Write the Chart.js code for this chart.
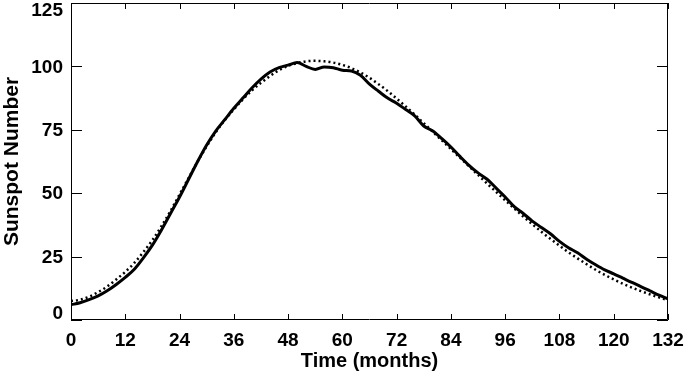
<!DOCTYPE html>
<html>
<head>
<meta charset="utf-8">
<script src="https://cdn.jsdelivr.net/npm/chart.js@4/dist/chart.umd.min.js"></script>
<style>
  html, body { margin: 0; padding: 0; background: #fff; }
  #wrap { width: 685px; height: 373px; }
</style>
</head>
<body>
<div id="wrap"><canvas id="chart" width="685" height="373"></canvas></div>
<script>
// months (every 2 months across the cycle)
const months = [
    0, 2, 4, 6, 8, 10, 12, 14, 16, 18, 20, 22, 24, 26, 28, 30, 32, 34, 36, 38,
    40, 42, 44, 46, 48, 50, 52, 54, 56, 58, 60, 62, 64, 66, 68, 70, 72, 74, 76, 78,
    80, 82, 84, 86, 88, 90, 92, 94, 96, 98, 100, 102, 104, 106, 108, 110, 112, 114, 116, 118,
    120, 122, 124, 126, 128, 130, 132,
];

// observed (solid)
const observed = [
    6.0, 6.8, 8.0, 9.5, 11.5, 14.0, 16.8, 20.0, 24.5, 29.5, 35.5, 42.0, 48.5, 55.5, 62.5, 69.0, 74.5, 79.0, 83.5, 87.5,
    91.5, 95.0, 97.8, 99.5, 100.5, 101.5, 100.0, 98.8, 99.8, 99.5, 98.5, 98.2, 96.5, 93.0, 90.2, 87.5, 85.5, 83.0, 80.5, 76.5,
    74.5, 71.5, 68.2, 64.5, 61.0, 58.0, 55.5, 52.0, 48.5, 44.7, 42.0, 39.0, 36.5, 34.0, 31.0, 28.5, 26.5, 24.0, 21.8, 19.8,
    18.2, 16.5, 14.8, 13.2, 11.5, 9.8, 8.3,
];

// fitted (dotted)
const fitted = [
    7.5, 8.0, 9.2, 11.0, 13.2, 16.0, 19.0, 22.5, 26.8, 31.5, 37.0, 43.0, 49.5, 56.0, 62.5, 68.5, 74.0, 78.8, 83.0, 87.0,
    90.5, 93.5, 96.2, 98.5, 100.2, 101.3, 102.0, 102.2, 102.0, 101.5, 100.6, 99.3, 97.6, 95.5, 93.0, 90.3, 87.3, 84.2, 81.0, 77.6,
    74.2, 70.8, 67.4, 64.0, 60.6, 57.2, 53.8, 50.5, 47.2, 44.0, 40.8, 37.8, 34.8, 32.0, 29.3, 26.7, 24.3, 22.0, 19.8, 17.8,
    16.0, 14.3, 12.8, 11.4, 10.1, 8.9, 7.8,
];

const xTicks = [0, 12, 24, 36, 48, 60, 72, 84, 96, 108, 120, 132];
const yTicks = [0, 25, 50, 75, 100, 125];

const fontFamily = "'Liberation Sans', Arial, Helvetica, sans-serif";

function toPoints(values) {
    return months.map((m, i) => ({ x: m, y: values[i] }));
}

// matlab style box with inward ticks on all four sides,
// y labels kept inside the canvas at the ends (like the original)
const boxTicks = {
    id: "boxTicks",
    afterDraw(chart) {
        const { ctx, chartArea: a, scales } = chart;
        ctx.save();
        ctx.strokeStyle = "#000";
        ctx.lineWidth = 1;
        ctx.beginPath();
        ctx.rect(a.left + 0.5, a.top + 0.5, a.right - a.left - 1, a.bottom - a.top - 1);
        for (const t of xTicks) {
            const px = Math.round(scales.x.getPixelForValue(t)) + 0.5;
            ctx.moveTo(px, a.bottom);
            ctx.lineTo(px, a.bottom - 6);
            ctx.moveTo(px, a.top);
            ctx.lineTo(px, a.top + 6);
        }
        for (const t of yTicks) {
            const py = Math.round(scales.y.getPixelForValue(t)) + 0.5;
            ctx.moveTo(a.left, py);
            ctx.lineTo(a.left + 11, py);
            ctx.moveTo(a.right, py);
            ctx.lineTo(a.right - 11, py);
        }
        ctx.stroke();

        ctx.fillStyle = "#000";
        ctx.font = "bold 19px " + fontFamily;
        ctx.textAlign = "right";
        ctx.textBaseline = "middle";
        for (const t of yTicks) {
            let py = scales.y.getPixelForValue(t);
            py = Math.min(Math.max(py, a.top + 7), a.bottom - 7);
            ctx.fillText(String(t), a.left - 8, py + 1);
        }
        ctx.restore();
    },
};

const ctx = document.getElementById("chart").getContext("2d");
const chart = new Chart(ctx, {
    type: "line",
    data: {
        datasets: [
            {
                label: "Observed",
                data: toPoints(observed),
                borderColor: "#000",
                borderWidth: 3,
                pointRadius: 0,
                cubicInterpolationMode: "monotone",
                fill: false,
            },
            {
                label: "Fit",
                data: toPoints(fitted),
                borderColor: "#000",
                borderWidth: 2.5,
                borderDash: [2, 3],
                pointRadius: 0,
                cubicInterpolationMode: "monotone",
                fill: false,
            },
        ],
    },
    options: {
        responsive: false,
        animation: false,
        layout: { padding: { top: 3, right: 17, left: 0, bottom: 0 } },
        plugins: {
            legend: { display: false },
            tooltip: { enabled: false },
        },
        scales: {
            x: {
                type: "linear",
                min: 0,
                max: 132,
                afterBuildTicks(scale) {
                    scale.ticks = xTicks.map((v) => ({ value: v }));
                },
                afterFit(scale) {
                    scale.height = 53;
                    scale.paddingLeft = 0;
                    scale.paddingRight = 0;
                },
                grid: { display: false, drawTicks: false },
                border: { display: false },
                ticks: {
                    padding: 9,
                    color: "#000",
                    font: { family: fontFamily, size: 19, weight: "bold" },
                    maxRotation: 0,
                },
                title: {
                    display: true,
                    text: "Time (months)",
                    color: "#000",
                    padding: 0,
                    font: { family: fontFamily, size: 20, weight: "bold" },
                },
            },
            y: {
                min: 0,
                max: 125,
                afterBuildTicks(scale) {
                    scale.ticks = yTicks.map((v) => ({ value: v }));
                },
                afterFit(scale) {
                    scale.width = 71;
                    scale.paddingTop = 0;
                    scale.paddingBottom = 0;
                },
                grid: { display: false, drawTicks: false },
                border: { display: false },
                ticks: { display: false },
                title: {
                    display: true,
                    text: "Sunspot Number",
                    color: "#000",
                    padding: 0,
                    font: { family: fontFamily, size: 21, weight: "bold" },
                },
            },
        },
    },
    plugins: [boxTicks],
});
</script>
</body>
</html>
